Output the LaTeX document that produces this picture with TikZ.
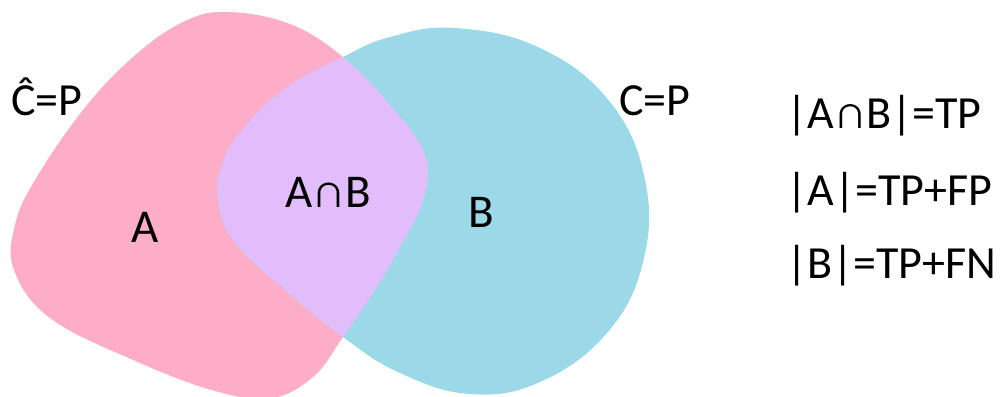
\documentclass[tikz,border=0pt]{standalone}
\usepackage{fontspec}
\setmainfont{Carlito}
\begin{document}
\begin{tikzpicture}[x=1pt,y=-1pt,
  lbl/.style={inner sep=0pt, anchor=base, font=\fontsize{47}{56}\selectfont},
  side/.style={inner sep=0pt, anchor=base west, font=\fontsize{46}{54}\selectfont}]
\definecolor{setA}{RGB}{254,173,201}
\definecolor{setB}{RGB}{155,217,232}
\definecolor{setAB}{RGB}{225,189,251}
\useasboundingbox (0,0) rectangle (1008,396);
\def\blobA{plot[smooth cycle, tension=0.65] coordinates {(227,12) (290,24) (343,57) (390,105) (425,155) (423,200) (400,247) (373,293) (343,337) (314,376) (272,398) (215,391) (133,360) (50,318) (14,270) (15,225) (35,180) (83,110) (133,57) (183,22)}}
\def\blobB{plot[smooth cycle, tension=0.7] coordinates {(455,28) (540,48) (610,102) (645,180) (643,262) (607,333) (540,382) (470,394) (400,373) (343,337) (277,283) (233,240) (218,200) (222,165) (240,133) (283,90) (343,57) (390,37)}}
% the two sets
\fill[setA] \blobA;
\fill[setB] \blobB;
% their overlap
\begin{scope}
  \clip \blobA;
  \fill[setAB] \blobB;
\end{scope}
% labels
\node[lbl] (la) at (145,242) {A};
\node[lbl] (lab) at (328,207) {A∩B};
\node[lbl] (lb) at (481,227) {B};
\node[side, anchor=base] (chat) at (47,115) {Ĉ=P};
\node[side, anchor=base] (cp) at (655,115) {C=P};
\node[side] (e1) at (786,128) {|A∩B|=TP};
\node[side] (e2) at (786,205) {|A|=TP+FP};
\node[side] (e3) at (786,278) {|B|=TP+FN};
\end{tikzpicture}
\end{document}
